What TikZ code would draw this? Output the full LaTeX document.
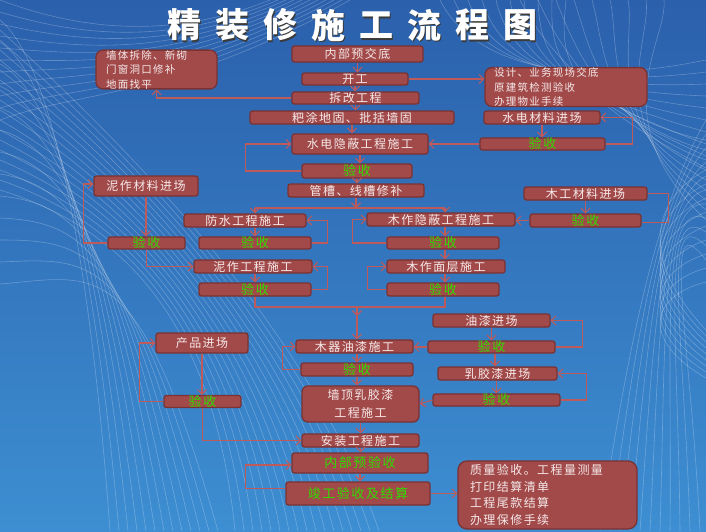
\documentclass[tikz,border=0pt]{standalone}
\usepackage{fontspec}
\newfontfamily\cjk[LetterSpace=12]{Noto Sans CJK SC}
\newfontfamily\cjkt{Noto Sans CJK SC}
\usetikzlibrary{arrows.meta}
\definecolor{bgtop}{HTML}{2B60AC}
\definecolor{bgbot}{HTML}{3D8ED2}
\definecolor{boxfill}{HTML}{A24A4A}
\definecolor{boxline}{HTML}{7B3232}
\definecolor{boxtext}{HTML}{F5E8E8}
\definecolor{okgreen}{HTML}{2EDC00}
\definecolor{arrcol}{HTML}{BE5A5A}
\definecolor{shadowc}{HTML}{3A3A3A}
\tikzset{
  box/.style={draw=boxline, fill=boxfill, line width=1.3pt, rounded corners=2.5pt,
    inner sep=0pt, text=boxtext, font=\cjk\fontsize{12}{14}\selectfont},
  okbox/.style={box, text=okgreen, font=\cjk\fontsize{13}{14}\selectfont},
  multibox/.style={box, rounded corners=7pt, align=left, font=\cjk\fontsize{10.5}{14.5}\selectfont},
  arr/.style={draw=arrcol, line width=1.1pt, -{Straight Barb[length=4.5pt,width=9pt]}},
  ln/.style={draw=arrcol, line width=1.1pt},
  mesh/.style={draw=white, opacity=0.25, line width=0.6pt},
  titlech/.style={font=\cjkt\bfseries\fontsize{34}{34}\selectfont, inner sep=0pt}
}
\begin{document}
\begin{tikzpicture}[x=1pt,y=-1pt]
\useasboundingbox (0,0) rectangle (706,531);
% background
\fill[top color=bgtop, bottom color=bgbot] (0,0) rectangle (706,531);
\begin{scope}
\clip (0,0) rectangle (706,531);
% left fan
\foreach \i in {0,...,16}
  \draw[mesh] (235+\i*9,531) .. controls (215+\i*6,330) and (130,230-\i*5) .. (0,190-\i*10);
\foreach \i in {0,...,12}
  \draw[mesh] (0,20+\i*22) .. controls (50+\i*4,60+\i*18) and (90+\i*4,250) .. (110+\i*9,531);
% top left web
\foreach \i in {0,...,10}
  \draw[mesh] (0,\i*12) .. controls (80,30+\i*6) and (170,40+\i*6) .. (270+\i*8,0);
% top centre web
\foreach \i in {0,...,9}
  \draw[mesh] (440+\i*14,0) .. controls (470+\i*10,60) and (560,90) .. (706,60+\i*12);
\foreach \i in {0,...,8}
  \draw[mesh] (520+\i*18,0) .. controls (540+\i*16,40) and (600,120) .. (706,140+\i*10);
% right waves
\foreach \i in {0,...,10}
  \draw[mesh] (600+\i*10,531) .. controls (630+\i*6,330) and (660,200) .. (706,120+\i*14);
\foreach \i in {0,...,8}
  \draw[mesh] (706,170+\i*14) .. controls (650,200+\i*12) and (640,260+\i*10) .. (706,330+\i*6);
\end{scope}
% title
\foreach \c [count=\k from 0] in {精,装,修,施,工,流,程,图} {
  \node[titlech, text=shadowc] at (184+48*\k+1.8,25+1.8) {\c};
  \node[titlech, text=white] (t\k) at (184+48*\k,25) {\c};
}
% main column
\node[box, minimum width=131pt, minimum height=16pt] (n1) at (357.5,54) {内部预交底};
\node[box, minimum width=106pt, minimum height=12pt] (n2) at (355,79) {开工};
\node[box, minimum width=127pt, minimum height=12pt] (n3) at (355.5,98) {拆改工程};
\node[box, minimum width=204pt, minimum height=13pt] (n4) at (352,117.5) {粑涂地固、批括墙固};
\node[box, minimum width=136pt, minimum height=20pt] (n5) at (360,144) {水电隐蔽工程施工};
\node[okbox, minimum width=110pt, minimum height=14pt] (v5) at (357,171) {验收};
\node[box, minimum width=136pt, minimum height=13pt] (n7) at (356,190.5) {管槽、线槽修补};
% side boxes top
\node[multibox, minimum width=121pt, minimum height=35pt, text width=101pt] (L1) at (156.5,69.5) {墙体拆除、新砌\\门窗洞口修补\\地面找平};
\node[multibox, minimum width=162pt, minimum height=34pt, text width=144pt] (R1) at (566,87) {设计、业务现场交底\\原建筑检测验收\\办理物业手续};
\node[box, minimum width=116pt, minimum height=13pt] (m1) at (542,117.5) {水电材料进场};
\node[okbox, minimum width=125pt, minimum height=12pt] (mv1) at (542.5,144) {验收};
% left branch
\node[box, minimum width=104pt, minimum height=20pt] (nm) at (146,186) {泥作材料进场};
\node[okbox, minimum width=77pt, minimum height=12pt] (nmv) at (146.5,243) {验收};
\node[box, minimum width=122pt, minimum height=13pt] (fs) at (245,220.5) {防水工程施工};
\node[okbox, minimum width=112pt, minimum height=12pt] (fsv) at (255,243) {验收};
\node[box, minimum width=118pt, minimum height=13pt] (nz) at (253,266.5) {泥作工程施工};
\node[okbox, minimum width=112pt, minimum height=13pt] (nzv) at (255,289.5) {验收};
% right branch
\node[box, minimum width=148pt, minimum height=13pt] (mz) at (441,219.5) {木作隐蔽工程施工};
\node[okbox, minimum width=112pt, minimum height=12pt] (mzv) at (443,243) {验收};
\node[box, minimum width=118pt, minimum height=13pt] (mm) at (446,266.5) {木作面层施工};
\node[okbox, minimum width=112pt, minimum height=13pt] (mmv) at (443,289.5) {验收};
\node[box, minimum width=123pt, minimum height=13pt] (mg) at (585.5,193.5) {木工材料进场};
\node[okbox, minimum width=111pt, minimum height=13pt] (mgv) at (585.5,220.5) {验收};
% painting
\node[box, minimum width=117pt, minimum height=13pt] (yq) at (491.5,320.5) {油漆进场};
\node[okbox, minimum width=127pt, minimum height=12pt] (yqv) at (491.5,347) {验收};
\node[box, minimum width=117pt, minimum height=13pt] (mq) at (354.5,346.5) {木器油漆施工};
\node[okbox, minimum width=112pt, minimum height=13pt] (mqv) at (357,369.5) {验收};
\node[box, rounded corners=6pt, align=center, font=\cjk\fontsize{12}{17.5}\selectfont, minimum width=117pt, minimum height=36pt] (qd) at (360.5,404) {墙顶乳胶漆\\工程施工};
\node[box, minimum width=119pt, minimum height=13pt] (rj) at (497.5,373.5) {乳胶漆进场};
\node[okbox, minimum width=127pt, minimum height=12pt] (rjv) at (496.5,400) {验收};
% products
\node[box, minimum width=92pt, minimum height=20pt] (cp) at (202,343) {产品进场};
\node[okbox, minimum width=77pt, minimum height=11pt] (cpv) at (202.5,401.5) {验收};
% final
\node[box, minimum width=117pt, minimum height=13pt] (az) at (360.5,440.5) {安装工程施工};
\node[okbox, minimum width=136pt, minimum height=20pt] (ny) at (360,463) {内部预验收};
\node[okbox, minimum width=144pt, minimum height=23pt] (jg) at (358,493.5) {竣工验收及结算};
\node[multibox, font=\cjk\fontsize{12}{16.7}\selectfont, rounded corners=9pt, minimum width=179pt, minimum height=68pt, text width=155pt] (R2) at (547.5,495) {质量验收。工程量测量\\打印结算清单\\工程尾款结算\\办理保修手续};

% ---- connectors ----
\foreach \a/\b in {n1/n2,n2/n3,n3/n4,n4/n5,n5/v5,v5/n7}
  \draw[arr] (\a.south) -- (\a.south |- \b.north);
\draw[arr] (n2.east) -- (n2.east -| R1.west);
\draw[arr] (n3.west) -| (L1.south);
\draw[arr] (m1.south) -- (m1.south |- mv1.north);
\draw[arr] (mv1.east) -- ++(27,0) |- (m1.east);
\draw[arr] (mv1.west) -- (mv1.west -| n5.east);
\draw[arr] (v5.west) -- ++(-56,0) |- (n5.west);
% split below n7
\coordinate (j1) at (356,208);
\coordinate (j1l) at (255,208);
\coordinate (j1r) at (445,208);
\draw[arr] (n7.south) -- (j1);
\draw[ln] (j1l) -- (j1r);
\draw[arr] (j1l) -- (j1l |- fs.north);
\draw[arr] (j1r) -- (j1r |- mz.north);
% mud work
\draw[arr] (nm.south) -- (nm.south |- nmv.north);
\draw[arr] (nmv.west) -- ++(-24,0) |- ([yshift=2pt]nm.west);
\draw[arr] (nmv.south) |- (nz.west);
\draw[arr] (fsv.north |- fs.south) -- (fsv.north);
\draw[arr] (fsv.east) -- ++(16,0) |- (fs.east);
\draw[arr] (nzv.north |- nz.south) -- (nzv.north);
\draw[arr] (nzv.east) -- ++(16,0) |- (nz.east);
% wood work
\draw[arr] ([xshift=2pt]mzv.north |- mz.south) -- ([xshift=2pt]mzv.north);
\draw[arr] (mzv.west) -- ++(-34,0) |- (mz.west);
\draw[arr] ([xshift=2pt]mzv.south) -- ([xshift=2pt]mzv.south |- mm.north);
\draw[arr] ([xshift=2pt]mmv.north |- mm.south) -- ([xshift=2pt]mmv.north);
\draw[arr] (mmv.west) -- ++(-19,0) |- (mm.west);
\draw[arr] (mg.south) -- (mg.south |- mgv.north);
\draw[arr] (mgv.west) -- (mgv.west -| mz.east);
\draw[ln] (mg.east) -- ++(21,0) |- ([yshift=-2pt]mgv.east);
% merge to wood paint
\coordinate (j2) at (357,307);
\coordinate (j3) at (357,316);
\draw[ln] (nzv.south) -- (nzv.south |- j2) -- ([xshift=2pt]mmv.south |- j2) -- ([xshift=2pt]mmv.south);
\draw[arr] (j2) -- (j3);
\draw[arr] (j3) -- (j3 |- mq.north);
% paint
\draw[arr] (yq.south) -- (yq.south |- yqv.north);
\draw[arr] (yqv.east) -- ++(27,0) |- (yq.east);
\draw[arr] (yqv.west) -- (yqv.west -| mq.east);
\draw[arr] ([xshift=3.5pt]yqv.south) -- ([xshift=3.5pt]yqv.south |- rj.north);
\draw[arr] (rjv.north |- rj.south) -- (rjv.north);
\draw[arr] (rjv.east) -- ++(26,0) |- (rj.east);
\draw[arr] (rjv.west) -- (qd.east);
\draw[arr] (mqv.north |- mq.south) -- (mqv.north);
\draw[arr] (mqv.west) -- ++(-18,0) |- (mq.west);
\draw[arr] (mqv.south) -- (mqv.south |- qd.north);
% products
\draw[arr] (cp.south) -- (cp.south |- cpv.north);
\draw[arr] (cpv.west) -- ++(-24,0) |- (cp.west);
\draw[arr] (cpv.south) |- (az.west);
% final chain
\draw[arr] (qd.south) -- (qd.south |- az.north);
\draw[arr] (az.south) -- (az.south |- ny.north);
\draw[arr] (ny.south) -- (ny.south |- jg.north);
\draw[arr] ([yshift=5pt]jg.west) -- ++(-40,0) |- ([yshift=-2pt]ny.west);
\draw[arr] (jg.east) -- (jg.east -| R2.west);
\end{tikzpicture}
\end{document}
